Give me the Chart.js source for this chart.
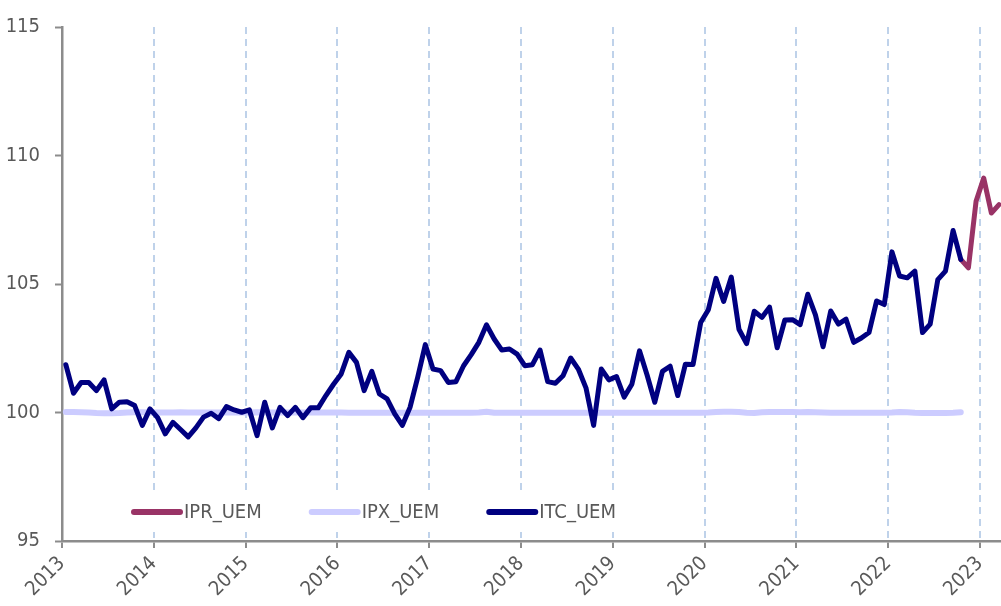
<!DOCTYPE html>
<html>
<head>
<meta charset="utf-8">
<script src="https://cdn.jsdelivr.net/npm/chart.js@4/dist/chart.umd.min.js"></script>
<style>
  body { margin: 0; background: #fff; }
  canvas { display: block; }
</style>
</head>
<body>
<canvas id="grafico" width="1001" height="606"></canvas>
<script>
// series are monthly, first value = Jan 2013
const startYear = 2013;
const yearTicks = [2013, 2014, 2015, 2016, 2017, 2018, 2019, 2020, 2021, 2022, 2023];
const valueTicks = [95, 100, 105, 110, 115];

const itcUem = [
  101.86, 100.75, 101.17, 101.17, 100.85, 101.27, 100.14, 100.40, 100.42, 100.27, 99.50, 100.14,
  99.80, 99.17, 99.62, 99.34, 99.05, 99.40, 99.82, 99.97, 99.76, 100.23, 100.10, 100.01,
  100.10, 99.10, 100.40, 99.40, 100.20, 99.88, 100.20, 99.80, 100.18, 100.18, 100.66, 101.10,
  101.50, 102.34, 101.95, 100.85, 101.60, 100.72, 100.53, 99.95, 99.50, 100.20, 101.37, 102.64,
  101.69, 101.63, 101.17, 101.20, 101.82, 102.25, 102.73, 103.41, 102.86, 102.43, 102.47, 102.27,
  101.82, 101.86, 102.43, 101.20, 101.14, 101.43, 102.12, 101.69, 100.96, 99.50, 101.69, 101.27,
  101.40, 100.60, 101.10, 102.40, 101.45, 100.40, 101.60, 101.80, 100.66, 101.88, 101.87, 103.50,
  104.00, 105.22, 104.32, 105.27, 103.24, 102.68, 103.94, 103.70, 104.10, 102.52, 103.60, 103.61,
  103.42, 104.60, 103.80, 102.56, 103.95, 103.44, 103.63, 102.73, 102.90, 103.11, 104.34, 104.20,
  106.25, 105.31, 105.24, 105.50, 103.11, 103.44, 105.17, 105.50, 107.08, 105.96
];

const ipxUem = [
  100.02, 100.02, 100.01, 100.00, 99.98, 99.97, 99.97, 99.98, 100.00, 100.01, 100.01, 100.00,
  100.00, 100.00, 100.00, 100.01, 100.00, 100.00, 100.00, 100.00, 100.00, 100.00, 100.00, 100.00,
  100.00, 100.01, 100.00, 100.00, 100.00, 100.00, 100.00, 100.00, 100.00, 100.00, 100.00, 100.00,
  100.00, 99.99, 99.99, 99.99, 99.99, 99.99, 99.99, 99.99, 99.99, 99.99, 99.99, 99.99,
  99.99, 99.99, 99.99, 99.99, 99.99, 99.99, 100.00, 100.03, 99.99, 99.99, 99.99, 99.99,
  99.99, 99.99, 99.99, 99.99, 99.99, 99.99, 99.99, 99.99, 99.99, 99.99, 99.99, 99.99,
  99.99, 99.99, 99.99, 99.99, 99.99, 99.99, 99.99, 99.99, 99.99, 99.99, 99.99, 99.99,
  100.00, 100.02, 100.03, 100.03, 100.02, 99.99, 99.98, 100.01, 100.02, 100.02, 100.02, 100.02,
  100.01, 100.02, 100.01, 100.00, 99.99, 99.99, 99.99, 99.99, 99.99, 99.99, 99.99, 99.99,
  100.00, 100.02, 100.01, 99.99, 99.98, 99.98, 99.98, 99.98, 99.99, 100.01
];

// IPR_UEM only shows from Oct 2022 (month index 117)
const iprInicio = 117;
const iprUem = [105.96, 105.63, 108.22, 109.12, 107.76, 108.09];

const fuente = '"Liberation Sans Narrow", "Arial Narrow", "DejaVu Sans Condensed", sans-serif';
const gris = '#595959';
const ejeGris = '#8c8c8c';

const mesX = (i) => startYear + (i + 0.5) / 12;
const aPuntos = (arr, desde) => arr.map((v, k) => ({ x: mesX(desde + k), y: v }));

// legend sits inside the plot, on a white box
const leyendaInterna = {
  id: 'leyendaInterna',
  beforeDatasetsDraw(chart) {
    const { ctx } = chart;
    const y = 512;
    ctx.save();
    ctx.fillStyle = '#fff';
    ctx.fillRect(118, 492, 520, 40);
    ctx.font = '20px ' + fuente;
    ctx.textBaseline = 'middle';
    let x = 131;
    chart.data.datasets.forEach(ds => {
      ctx.strokeStyle = ds.borderColor;
      ctx.lineWidth = 6;
      ctx.lineCap = 'round';
      ctx.beginPath();
      ctx.moveTo(x + 3, y);
      ctx.lineTo(x + 49, y);
      ctx.stroke();
      ctx.fillStyle = gris;
      ctx.fillText(ds.label, x + 53, y + 1);
      x += 53 + ctx.measureText(ds.label).width + 47;
    });
    ctx.restore();
  }
};

new Chart(document.getElementById('grafico'), {
  type: 'line',
  data: {
    datasets: [
      {
        label: 'IPR_UEM',
        data: aPuntos(iprUem, iprInicio),
        borderColor: '#993366',
        borderWidth: 5,
        order: 2
      },
      {
        label: 'IPX_UEM',
        data: aPuntos(ipxUem, 0),
        borderColor: '#ccccff',
        borderWidth: 6,
        order: 3
      },
      {
        label: 'ITC_UEM',
        data: aPuntos(itcUem, 0),
        borderColor: '#000080',
        borderWidth: 5,
        order: 1
      }
    ]
  },
  options: {
    responsive: false,
    animation: false,
    layout: { padding: { top: 25, right: 0, left: 0, bottom: 0 } },
    elements: {
      point: { radius: 0 },
      line: { tension: 0, borderJoinStyle: 'round', borderCapStyle: 'round', fill: false }
    },
    plugins: {
      legend: { display: false },
      tooltip: { enabled: false }
    },
    scales: {
      x: {
        type: 'linear',
        min: 2013,
        max: 2023.23,
        afterBuildTicks: (scale) => { scale.ticks = yearTicks.map(v => ({ value: v })); },
        afterFit: (scale) => { scale.height = 65; },
        ticks: {
          autoSkip: false,
          minRotation: 45,
          maxRotation: 45,
          padding: 4,
          color: gris,
          font: { family: fuente, size: 20 },
          callback: (v) => String(v)
        },
        grid: {
          color: '#bfd2ea',
          lineWidth: 2,
          drawTicks: true,
          tickLength: 7,
          tickColor: ejeGris,
          tickWidth: 2,
          tickBorderDash: []
        },
        border: { display: true, color: ejeGris, width: 2.5, dash: [7, 5] }
      },
      y: {
        min: 95,
        max: 115,
        afterBuildTicks: (scale) => { scale.ticks = valueTicks.map(v => ({ value: v })); },
        afterFit: (scale) => { scale.width = 62; },
        ticks: {
          padding: 15,
          color: gris,
          font: { family: fuente, size: 20 }
        },
        grid: {
          drawOnChartArea: false,
          drawTicks: true,
          tickLength: 7,
          tickColor: ejeGris,
          tickWidth: 2
        },
        border: { display: true, color: ejeGris, width: 2.5 }
      }
    }
  },
  plugins: [leyendaInterna]
});
</script>
</body>
</html>
